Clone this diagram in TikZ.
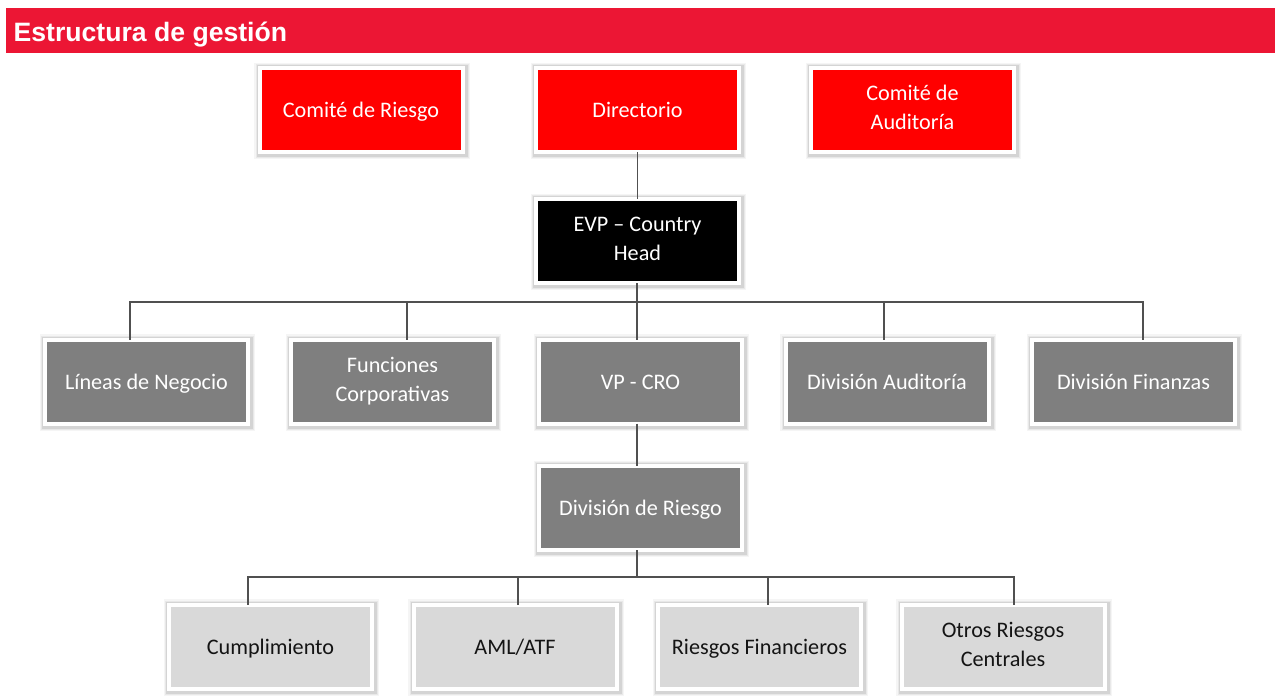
\documentclass[tikz,border=0pt]{standalone}
\usepackage{fontspec}
\setmainfont{Carlito}
\newfontfamily\headfont{Liberation Sans}
\definecolor{bannerred}{RGB}{236,22,52}
\definecolor{boardred}{RGB}{255,0,0}
\definecolor{midgray}{RGB}{127,127,127}
\definecolor{lightgray}{RGB}{217,217,217}
\definecolor{linkgray}{RGB}{80,80,80}
\definecolor{textdark}{RGB}{20,20,20}
% balanced struts so that text lines sit centred in their boxes
\newcommand{\boxstrut}{\rule[-5pt]{0pt}{25pt}}
\newcommand{\tallstrut}{\rule{0pt}{32.5pt}}
\begin{document}
\begin{tikzpicture}[x=1pt,y=-1pt,
  orgbox/.style={rectangle, inner sep=0pt, minimum width=203pt, minimum height=84pt,
    align=center, draw=white, line width=4pt,
    font=\fontsize{22.2}{29}\selectfont,
    execute at begin node=\boxstrut, execute at end node=\boxstrut,
    preaction={draw=black!4, line width=12.5pt, transform canvas={shift={(1.2pt,-1.2pt)}}},
    preaction={draw=black!9, line width=10pt, transform canvas={shift={(1.2pt,-1.2pt)}}},
    preaction={draw=black!17, line width=7.8pt, transform canvas={shift={(1.2pt,-1.2pt)}}}},
  twoline/.style={execute at begin node=\tallstrut},
  boardbox/.style={orgbox, fill=boardred, text=white},
  headbox/.style={orgbox, fill=black, text=white},
  unitbox/.style={orgbox, fill=midgray, text=white},
  riskbox/.style={orgbox, fill=lightgray, text=textdark},
  link/.style={draw=linkgray, line width=1.3pt}]
\useasboundingbox (0,0) rectangle (1275,696);

% title banner
\fill[bannerred] (6,8) rectangle (1275,53);
\node[anchor=base west, inner sep=0pt, text=white, font=\headfont\bfseries\fontsize{26.6}{30}\selectfont] (title) at (13.5,41.5) {Estructura de gestión};

% board level
\node[boardbox] (crisk) at (361,110) {Comité de Riesgo};
\node[boardbox] (board) at (637.5,110) {Directorio};
\node[boardbox, twoline] (caudit) at (912.5,110) {Comité de\\Auditoría};

% executive level
\node[headbox, twoline] (evp) at (637.5,241) {EVP – Country\\Head};

% divisions
\node[unitbox] (lines) at (146.5,381.5) {Líneas de Negocio};
\node[unitbox, twoline] (corp) at (392.5,381.5) {Funciones\\Corporativas};
\node[unitbox] (cro) at (640.5,381.5) {VP - CRO};
\node[unitbox] (audit) at (887,381.5) {División Auditoría};
\node[unitbox] (fin) at (1133.5,381.5) {División Finanzas};

\node[unitbox] (risk) at (640.5,508) {División de Riesgo};

% risk units
\node[riskbox] (comp) at (270.5,646.5) {Cumplimiento};
\node[riskbox] (aml) at (515,646.5) {AML/ATF};
\node[riskbox] (finrisk) at (759.5,646.5) {Riesgos Financieros};
\node[riskbox, twoline] (other) at (1003,646.5) {Otros Riesgos\\Centrales};

% connectors: board to executive
\draw[link] ([yshift=2pt]board.south) -- ([yshift=-2pt]evp.north);

% executive to divisions
\coordinate (busA) at (637,302);
\draw[link] ([xshift=-0.5pt,yshift=2pt]evp.south) -- (busA);
\draw[link] ([xshift=-16.5pt,yshift=-2pt]lines.north) |- (busA);
\draw[link] ([xshift=14.5pt,yshift=-2pt]corp.north) |- (busA);
\draw[link] ([xshift=-3.5pt,yshift=-2pt]cro.north) -- (busA);
\draw[link] ([xshift=-3pt,yshift=-2pt]audit.north) |- (busA);
\draw[link] ([xshift=9.5pt,yshift=-2pt]fin.north) |- (busA);

% CRO to risk division
\draw[link] ([xshift=-3.5pt,yshift=2pt]cro.south) -- ([xshift=-3.5pt,yshift=-2pt]risk.north);

% risk division to risk units
\coordinate (busB) at (637,577);
\draw[link] ([xshift=-3.5pt,yshift=2pt]risk.south) -- (busB);
\draw[link] ([xshift=-22.5pt,yshift=-2pt]comp.north) |- (busB);
\draw[link] ([xshift=3pt,yshift=-2pt]aml.north) |- (busB);
\draw[link] ([xshift=8.5pt,yshift=-2pt]finrisk.north) |- (busB);
\draw[link] ([xshift=11pt,yshift=-2pt]other.north) |- (busB);
\end{tikzpicture}
\end{document}
